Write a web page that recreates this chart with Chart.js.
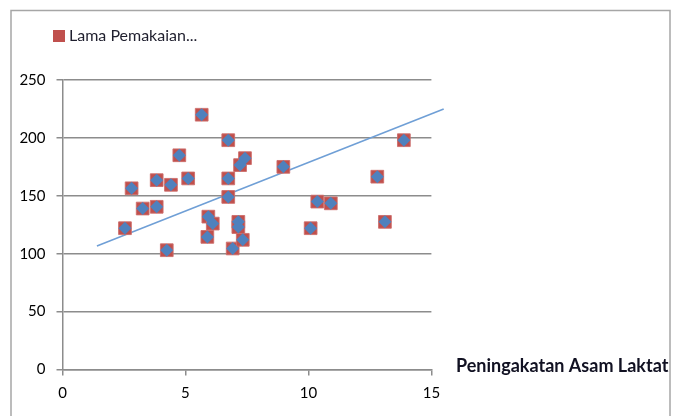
<!DOCTYPE html>
<html>
<head>
<meta charset="utf-8">
<script src="https://cdn.jsdelivr.net/npm/chart.js@4/dist/chart.umd.min.js"></script>
<style>
  html, body { margin: 0; padding: 0; background: #ffffff; }
  #wrap { width: 673px; height: 416px; position: relative; }
</style>
</head>
<body>
<div id="wrap"><canvas id="c" width="673" height="416"></canvas></div>
<script>
// Series label and axis title
const seriesName = 'Lama Pemakaian...';
const axisTitle = 'Peningakatan Asam Laktat';

// Observations: x = peningkatan asam laktat, y = lama pemakaian
const asamLaktat = [2.54, 2.81, 3.26, 3.83, 3.83, 4.41, 4.24, 4.75, 5.11, 5.66,
                    5.93, 6.11, 5.89, 6.74, 6.74, 6.74, 6.92, 7.15, 7.15, 7.33,
                    7.22, 7.42, 8.98, 10.09, 10.36, 10.91, 12.8, 13.11, 13.88];
const lamaPemakaian = [122, 156.5, 139, 140.5, 163.5, 159.5, 103, 185, 165, 220,
                       132, 126, 114.5, 198, 165, 149, 104.5, 127.5, 123, 112,
                       176.5, 182.5, 175, 122, 145, 143.5, 166.5, 127.5, 198];

// Linear trend line end points
const trendX = [1.4, 15.5];
const trendY = [106.6, 225];

// Axis ticks
const xTicks = [0, 5, 10, 15];
const yTicks = [0, 50, 100, 150, 200, 250];

const pts = asamLaktat.map((x, i) => ({ x, y: lamaPemakaian[i] }));
const trend = trendX.map((x, i) => ({ x, y: trendY[i] }));

const RED = '#C0504D';
const BLUE = '#4F81BD';
const GRID = '#8c8c8c';
const FONT = 'Lato, "Open Sans", sans-serif';

const decor = {
  id: 'decor',
  beforeDraw(chart) {
    const ctx = chart.ctx;
    ctx.save();
    ctx.fillStyle = '#ffffff';
    ctx.fillRect(0, 0, chart.width, chart.height);
    ctx.strokeStyle = '#a6a6a6';
    ctx.lineWidth = 1.5;
    ctx.strokeRect(11, 10.5, 659, 420);
    ctx.restore();
  },
  afterDraw(chart) {
    const ctx = chart.ctx;
    ctx.save();
    // legend entry
    ctx.fillStyle = RED;
    ctx.fillRect(53, 30, 12, 12);
    ctx.fillStyle = '#1f1f2e';
    ctx.font = '16px ' + FONT;
    ctx.textBaseline = 'middle';
    ctx.fillText(seriesName, 69, 36);
    // axis title to the right of the x axis
    ctx.fillStyle = '#111122';
    ctx.font = 'bold 18px ' + FONT;
    ctx.fillText(axisTitle, 456, 366);
    ctx.restore();
  }
};

new Chart(document.getElementById('c'), {
  type: 'scatter',
  data: {
    datasets: [
      {
        label: seriesName + ' marker',
        data: pts,
        pointStyle: 'rectRot',
        pointRadius: 6.5,
        pointHoverRadius: 6.5,
        backgroundColor: BLUE,
        borderColor: BLUE,
        borderWidth: 0,
        order: 0
      },
      {
        label: seriesName,
        data: pts,
        pointStyle: 'rect',
        pointRadius: 9,
        pointHoverRadius: 9,
        backgroundColor: RED,
        borderColor: 'rgba(205,110,108,0.9)',
        borderWidth: 1,
        order: 1
      },
      {
        label: 'trend',
        type: 'line',
        data: trend,
        showLine: true,
        pointRadius: 0,
        borderColor: '#6f9fd6',
        borderWidth: 1.6,
        fill: false,
        clip: false,
        order: 2
      }
    ]
  },
  options: {
    responsive: false,
    animation: false,
    devicePixelRatio: 1,
    layout: { padding: { left: 12, top: 80, right: 241.6, bottom: 0 } },
    plugins: {
      legend: { display: false },
      tooltip: { enabled: false }
    },
    scales: {
      x: {
        type: 'linear',
        min: 0, max: 15,
        afterFit(s) { s.height = 46.5; },
        afterBuildTicks(s) { s.ticks = xTicks.map(v => ({ value: v })); },
        grid: { drawOnChartArea: false, drawTicks: true, tickLength: 6, color: GRID, lineWidth: 1.5 },
        border: { color: GRID, width: 1.5 },
        ticks: { color: '#000', font: { family: FONT, size: 15 }, padding: 9 }
      },
      y: {
        type: 'linear',
        min: 0, max: 250,
        afterFit(s) { s.width = 50.5; },
        afterBuildTicks(s) { s.ticks = yTicks.map(v => ({ value: v })); },
        grid: { drawOnChartArea: true, drawTicks: true, tickLength: 6, color: GRID, lineWidth: 1.5 },
        border: { color: GRID, width: 1.5 },
        ticks: { color: '#000', font: { family: FONT, size: 15 }, padding: 11 }
      }
    }
  },
  plugins: [decor]
});
</script>
</body>
</html>
